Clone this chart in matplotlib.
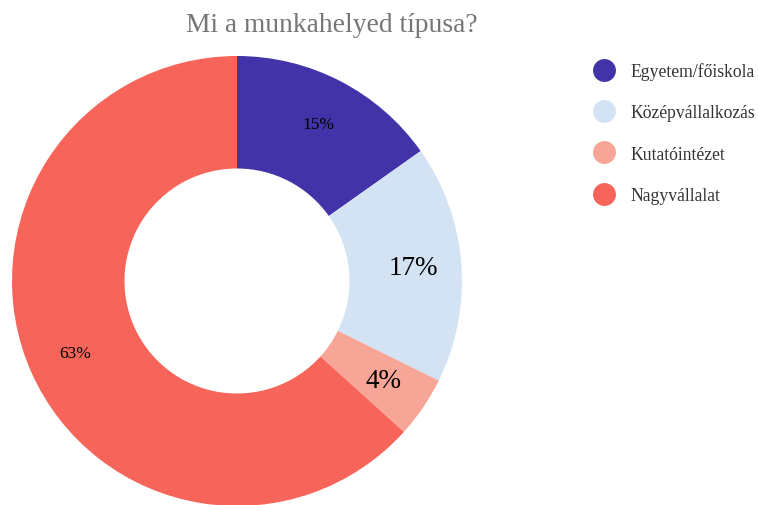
import matplotlib
matplotlib.use("Agg")
import matplotlib.pyplot as plt
from matplotlib.lines import Line2D

categories = ["Egyetem/főiskola", "Középvállalkozás", "Kutatóintézet", "Nagyvállalat"]
values = [15.2, 17.1, 4.4, 63.3]
colors = ["#4333A8", "#D4E3F4", "#F7A597", "#F7655A"]
label_sizes = [12.5, 19.5, 19.5, 12.5]
title = "Mi a munkahelyed típusa?"

plt.rcParams['font.family'] = ['Liberation Serif', 'DejaVu Serif']

fig = plt.figure(figsize=(7.58, 5.06), dpi=100)
W, H = 758, 506
cx, cy, R = 237, 282, 225
ax = fig.add_axes([(cx - R) / W, (H - cy - R) / H, 2 * R / W, 2 * R / H])

wedges, texts, autotexts = ax.pie(
    values, colors=colors, startangle=90, counterclock=False,
    radius=1.0, wedgeprops=dict(width=0.5, linewidth=0),
    autopct=lambda p: f"{p:.0f}%", pctdistance=0.785,
    textprops=dict(color="black"))
for t, s in zip(autotexts, label_sizes):
    t.set_fontsize(s)
ax.set_xlim(-1, 1)
ax.set_ylim(-1, 1)
ax.set_aspect("equal")
ax.axis("off")

fig.text(332 / W, 1 - 25 / H, title, ha="center", va="center",
         fontsize=19.8, color="#767676")

handles = [Line2D([0], [0], marker="o", linestyle="", markersize=16.5,
                  markerfacecolor=c, markeredgewidth=0) for c in colors]
leg = fig.legend(handles, categories, loc="upper left",
                 bbox_to_anchor=(579 / W, 1 - 56 / H), frameon=False,
                 fontsize=12.7, labelspacing=1.38, handletextpad=0.5,
                 borderaxespad=0)
for t in leg.get_texts():
    t.set_color("#333333")

fig.savefig("out.png", dpi=100)
